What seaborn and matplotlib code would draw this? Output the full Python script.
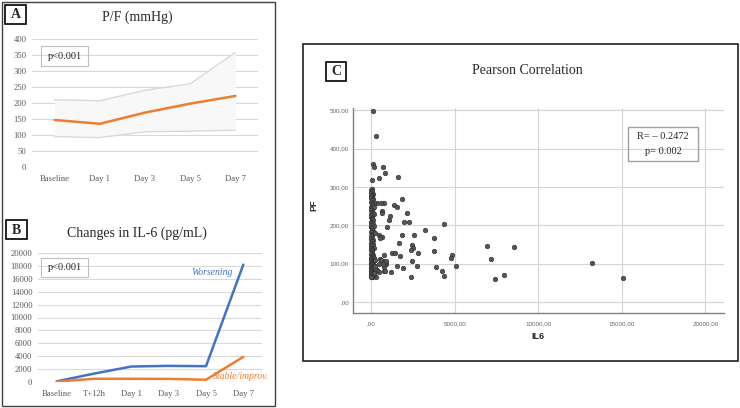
import matplotlib
matplotlib.use("Agg")
import matplotlib.pyplot as plt
import seaborn as sns
import pandas as pd
from matplotlib.patches import Rectangle
from matplotlib.ticker import FixedLocator, FixedFormatter

# ---------------- data ----------------
pf_days = ["Baseline", "Day 1", "Day 3", "Day 5", "Day 7"]
pf_median = [147, 135, 170, 198, 222]
pf_upper = [210, 207, 240, 260, 358]
pf_lower = [95, 92, 110, 112, 115]
pf_yticks = [0, 50, 100, 150, 200, 250, 300, 350, 400]

il6_times = ["Baseline", "T+12h", "Day 1", "Day 3", "Day 5", "Day 7"]
il6_worsening = [100, 1300, 2400, 2500, 2450, 18200]
il6_stable = [50, 500, 500, 480, 350, 3900]
il6_yticks = [0, 2000, 4000, 6000, 8000, 10000, 12000, 14000, 16000, 18000, 20000]

corr_il6 = [
    100, 320, 140, 200, 740, 820, 480, 1610, 60,
    1840, 1390, 1560, 1150, 1080, 2170, 1970, 2270, 940, 4350, 3210, 2590, 1870, 3770,
    1670, 2430, 2510, 2390, 2790, 3790, 1240, 1440, 1730, 780, 4830, 4790, 6920, 8530,
    7160, 13200, 2430, 800, 890, 1580, 2730, 5080, 3870, 540, 1930, 800, 1200, 4230,
    7950, 4390, 2390, 7420, 15090, 480, 760, 820,
    800, 600, 680, 640, 380, 480, 680, 560, 740, 880, 740, 820, 380, 300, 500, 580,
    30, 10, 60, 20, 90, 40, 0, 70, 20, 110, 50, 10, 150, 30, 80, 0, 120, 40, 200, 20,
    60, 100, 10, 180, 40, 0, 70, 30, 130, 10, 50, 90, 20, 160, 0, 60, 30, 110, 10, 80,
    40, 210, 0, 60, 20, 130, 40, 0, 90, 20, 60, 10, 150, 30, 0, 80, 40, 10, 120, 30,
    60, 0, 200, 20, 90, 40, 10, 140, 60, 0, 30, 100, 20, 160, 50, 0, 80, 30, 10, 250,
    60, 20, 120, 40, 0, 180, 70, 20, 100, 0, 40, 60, 10, 150, 220, 260,
]
corr_pf = [
    498, 432, 359, 352, 352, 336, 324, 325, 318,
    268, 253, 248, 225, 213, 232, 210, 210, 195, 204, 189, 175, 175, 168,
    153, 150, 140, 135, 128, 134, 128, 129, 120, 122, 122, 115, 147, 144,
    111, 101, 108, 105, 100, 95, 94, 94, 91, 113, 89, 80, 79, 82,
    70, 68, 66, 61, 62, 78, 92, 103,
    258, 259, 238, 231, 259, 176, 170, 166, 106, 107, 99, 81, 83, 64, 100, 110,
    295, 292, 290, 285, 283, 280, 276, 272, 270, 268, 265, 262, 258, 255, 252, 248, 246, 244, 247, 240,
    236, 232, 230, 230, 226, 222, 220, 216, 214, 210, 206, 204, 200, 198, 195, 192, 188, 186, 182, 178,
    176, 180, 172, 168, 165, 162, 158, 155, 152, 148, 145, 142, 140, 138, 135, 132, 128, 125, 122, 120,
    118, 115, 116, 112, 110, 108, 105, 104, 102, 100, 98, 96, 94, 93, 91, 89, 88, 86, 84, 86,
    82, 80, 79, 77, 75, 74, 72, 70, 69, 68, 66, 64, 66, 76, 95, 110,
]
corr_xticks = [0, 5000, 10000, 15000, 20000]
corr_xticklabels = [",00", "5000,00", "10000,00", "15000,00", "20000,00"]
corr_yticks = [0, 100, 200, 300, 400, 500]
corr_yticklabels = [",00", "100,00", "200,00", "300,00", "400,00", "500,00"]

# ---------------- style ----------------
sns.set_style("white")
plt.rcParams["font.family"] = ["Liberation Serif", "DejaVu Serif"]

ORANGE = "#ED7D31"
BLUE = "#4472C4"
GRID = "#D9D9D9"
TICK = "#595959"

W, H = 740, 408
fig = plt.figure(figsize=(W / 100, H / 100), dpi=100)


def rect_axes(l, t, r, b):
    return fig.add_axes([l / W, 1 - b / H, (r - l) / W, (b - t) / H])


def fig_rect(l, t, r, b, **kw):
    fig.patches.append(Rectangle((l / W, 1 - b / H), (r - l) / W, (b - t) / H,
                                 transform=fig.transFigure, fill=False, **kw))


def fig_text(x, y, s, **kw):
    fig.text(x / W, 1 - y / H, s, **kw)


# outer frames
fig_rect(2, 2, 275, 406, edgecolor="#404040", linewidth=1.0)
fig_rect(303, 44, 738, 361, edgecolor="#202020", linewidth=1.2)

# ---------------- panel A ----------------
axA = rect_axes(32, 39, 258, 167)
dfA = pd.DataFrame({"day": pf_days, "median": pf_median, "upper": pf_upper, "lower": pf_lower})
axA.fill_between(dfA["day"], dfA["lower"], dfA["upper"], color="#F8F8F8", linewidth=0)
sns.lineplot(data=dfA, x="day", y="upper", ax=axA, color="#D9D9D9", linewidth=1.0, sort=False)
sns.lineplot(data=dfA, x="day", y="lower", ax=axA, color="#D9D9D9", linewidth=1.0, sort=False)
sns.lineplot(data=dfA, x="day", y="median", ax=axA, color=ORANGE, linewidth=1.8, sort=False)
axA.set_xlim(-0.5, len(pf_days) - 0.5)
axA.set_ylim(0, 400)
axA.set_yticks(pf_yticks)
axA.yaxis.grid(True, color=GRID, linewidth=0.8)
axA.set_axisbelow(True)
for s in axA.spines.values():
    s.set_visible(False)
axA.tick_params(axis="both", length=0, labelsize=6.2, labelcolor=TICK)
axA.tick_params(axis="x", pad=6)
axA.tick_params(axis="y", pad=4)
axA.set_xlabel("")
axA.set_ylabel("")

fig_text(137, 17, "P/F (mmHg)", fontsize=10, ha="center", va="center")
fig_rect(5, 5, 26, 24, edgecolor="black", linewidth=1.2)
fig_text(15.5, 15, "A", fontsize=10, fontweight="bold", ha="center", va="center")
fig_rect(41, 46, 88, 66, edgecolor="#BFBFBF", linewidth=0.8)
fig_text(64.5, 56.5, "p<0.001", fontsize=7.5, ha="center", va="center")

# ---------------- panel B ----------------
axB = rect_axes(38, 253, 262, 382)
dfB = pd.DataFrame({"time": il6_times, "worse": il6_worsening, "stable": il6_stable})
sns.lineplot(data=dfB, x="time", y="worse", ax=axB, color=BLUE, linewidth=1.8, sort=False)
sns.lineplot(data=dfB, x="time", y="stable", ax=axB, color=ORANGE, linewidth=1.8, sort=False)
axB.set_xlim(-0.5, len(il6_times) - 0.5)
axB.set_ylim(0, 20000)
axB.set_yticks(il6_yticks)
axB.yaxis.grid(True, color=GRID, linewidth=0.8)
axB.set_axisbelow(True)
for s in axB.spines.values():
    s.set_visible(False)
axB.tick_params(axis="both", length=0, labelsize=6.2, labelcolor=TICK)
axB.tick_params(axis="x", pad=6)
axB.tick_params(axis="y", pad=4)
axB.set_xlabel("")
axB.set_ylabel("")
axB.text(4.72, 16900, "Worsening", color=BLUE, fontsize=7, style="italic", ha="right", va="center")
axB.text(5.69, 780, "Stable/improv.", color=ORANGE, fontsize=7, style="italic", ha="right",
         va="center", clip_on=False)

fig_text(137, 233, "Changes in IL-6 (pg/mL)", fontsize=10, ha="center", va="center")
fig_rect(6, 220, 27, 239, edgecolor="black", linewidth=1.2)
fig_text(16.5, 230, "B", fontsize=10, fontweight="bold", ha="center", va="center")
fig_rect(41, 258, 88, 277, edgecolor="#BFBFBF", linewidth=0.8)
fig_text(64.5, 267.5, "p<0.001", fontsize=7.5, ha="center", va="center")

# ---------------- panel C ----------------
axC = rect_axes(353, 108, 724, 313)
dfC = pd.DataFrame({"IL6": corr_il6, "PF": corr_pf})
sns.scatterplot(data=dfC, x="IL6", y="PF", ax=axC, color="#555555", edgecolor="#2A2A2A",
                linewidth=0.4, s=11, zorder=3)
axC.set_xlim(-1077, 21112)
axC.set_ylim(-28.6, 506)
axC.xaxis.set_major_locator(FixedLocator(corr_xticks))
axC.xaxis.set_major_formatter(FixedFormatter(corr_xticklabels))
axC.yaxis.set_major_locator(FixedLocator(corr_yticks))
axC.yaxis.set_major_formatter(FixedFormatter(corr_yticklabels))
axC.grid(True, color="#D4D4D4", linewidth=0.8)
axC.set_axisbelow(True)
axC.spines["top"].set_visible(False)
axC.spines["right"].set_visible(False)
for side in ("left", "bottom"):
    axC.spines[side].set_color("#808080")
    axC.spines[side].set_linewidth(1.0)
axC.tick_params(axis="both", length=0, labelsize=4.5, labelcolor="#666666")
for lab in axC.get_xticklabels() + axC.get_yticklabels():
    lab.set_family(["Liberation Sans", "DejaVu Sans"])
axC.tick_params(axis="x", pad=6)
axC.tick_params(axis="y", pad=3)
axC.set_xlabel("IL6", fontsize=6.5, fontweight="bold", family=["Liberation Sans", "DejaVu Sans"])
axC.set_ylabel("PF", fontsize=6.5, fontweight="bold", family=["Liberation Sans", "DejaVu Sans"])
axC.xaxis.set_label_coords((538 - 353) / 371, -(332 - 313) / 205)
axC.yaxis.set_label_coords(-(353 - 318) / 371, (313 - 205) / 205)

fig_text(527, 71, "Pearson Correlation", fontsize=10, ha="center", va="center")
fig_rect(326, 62, 346, 81, edgecolor="black", linewidth=1.2)
fig_text(336, 71.5, "C", fontsize=10, fontweight="bold", ha="center", va="center")
fig_rect(628, 127, 698, 161, edgecolor="#A0A0A0", linewidth=1.0)
fig_text(663, 137, "R= \u2013 0.2472", fontsize=7.5, ha="center", va="center")
fig_text(663, 151, "p= 0.002", fontsize=7.5, ha="center", va="center")

fig.savefig("out.png", dpi=100)
